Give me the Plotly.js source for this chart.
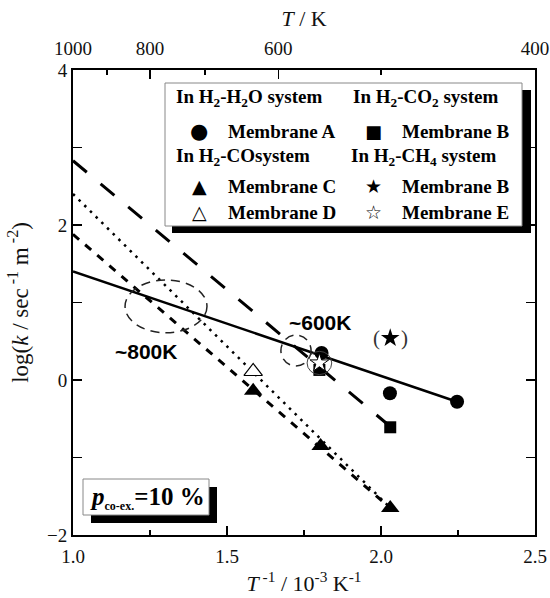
<!DOCTYPE html>
<html>
<head>
<meta charset="utf-8">
<script src="https://cdn.plot.ly/plotly-3.0.1.min.js"></script>
<style>html,body{margin:0;padding:0;background:#fff;}#chart{width:550px;height:598px;}</style>
</head>
<body>
<div id="chart"></div>
<script>
// ---- data ----
const xA = [1.807, 2.029, 2.247];      // Membrane A, H2-H2O
const yA = [0.35, -0.17, -0.28];
const xBco2 = [1.80, 2.03];            // Membrane B, H2-CO2
const yBco2 = [0.13, -0.61];
const xC = [1.585, 1.804, 2.03];       // Membrane C, H2-CO
const yC = [-0.14, -0.85, -1.65];
const xD = [1.585];                    // Membrane D, H2-CO
const yD = [0.11];
const xBch4 = [2.03];                  // Membrane B, H2-CH4
const yBch4 = [0.54];
const xE = [1.80];                     // Membrane E, H2-CH4
const yE = [0.22];
// fitted lines (end points)
const fitA_x = [1.0, 2.247], fitA_y = [1.40, -0.28];
const fitB_x = [1.0, 2.03],  fitB_y = [2.83, -0.60];
const fitC_x = [1.0, 2.03],  fitC_y = [1.88, -1.65];
const fitD_x = [1.0, 2.03],  fitD_y = [2.40, -1.65];
// axes
const xTicks = [1.0, 1.5, 2.0, 2.5];
const yTicks = [-2, 0, 2, 4];
const topT = [1000, 800, 600, 400];
const topMinorT = [900, 700, 500];

// ---- layout helpers (pixel -> paper) ----
const L = 73, R = 535, T = 70, B = 535;
const px = p => (p - L) / (R - L);
const py = p => (B - p) / (B - T);
const serif = 'Liberation Serif, Times New Roman, serif';
const sans = 'Liberation Sans, Arial, sans-serif';

const traces = [
  {x: fitA_x, y: fitA_y, mode: 'lines', line: {color: '#000', width: 2.5}, hoverinfo: 'skip'},
  {x: fitB_x, y: fitB_y, mode: 'lines', line: {color: '#000', width: 3, dash: '18px,18px'}, hoverinfo: 'skip'},
  {x: fitC_x, y: fitC_y, mode: 'lines', line: {color: '#000', width: 3, dash: '8px,8px'}, hoverinfo: 'skip'},
  {x: fitD_x, y: fitD_y, mode: 'lines', line: {color: '#000', width: 2.5, dash: '2.5px,5.5px'}, hoverinfo: 'skip'},
  {x: xA, y: yA, mode: 'markers', marker: {symbol: 'circle', size: 14, color: '#000'}},
  {x: xBco2, y: yBco2, mode: 'markers', marker: {symbol: 'square', size: 12, color: '#000'}},
  {x: xC, y: yC, mode: 'markers', marker: {symbol: 'triangle-up', size: 16, color: '#000'}},
  {x: xD, y: yD, mode: 'markers', marker: {symbol: 'triangle-up', size: 16, color: '#fff', line: {color: '#000', width: 1.2}}},
  {x: xBch4, y: yBch4, mode: 'markers', marker: {symbol: 'star', size: 14, color: '#000'}},
  {x: xE, y: yE, mode: 'markers', marker: {symbol: 'star', size: 14, color: '#fff', line: {color: '#000', width: 1}}},
  // carrier for the top axis
  {x: [1.0, 2.5], y: [0, 0], xaxis: 'x2', mode: 'markers', marker: {opacity: 0}, hoverinfo: 'skip'}
];

const tickFont = {family: serif, size: 19, color: '#111'};
const legendFont = {family: serif, size: 19, color: '#000'};

function legendText(x, y, text) {
  return {xref: 'paper', yref: 'paper', x: px(x), y: py(y), xanchor: 'left', yanchor: 'middle',
          text: text, showarrow: false, font: legendFont};
}
function symText(x, y, text, size) {
  return {xref: 'paper', yref: 'paper', x: px(x), y: py(y), xanchor: 'center', yanchor: 'middle',
          text: text, showarrow: false, font: {family: 'DejaVu Sans, sans-serif', size: size || 19, color: '#000'}};
}

const annotations = [
  legendText(174, 98, '<b>In H<sub>2</sub>-H<sub>2</sub>O system</b>'),
  legendText(351, 98, '<b>In H<sub>2</sub>-CO<sub>2</sub> system</b>'),
  symText(199, 131, '●', 21), legendText(226, 131, '<b>Membrane A</b>'),
  symText(373, 131, '■', 18), legendText(400, 131, '<b>Membrane B</b>'),
  legendText(174, 157, '<b>In H<sub>2</sub>-COsystem</b>'),
  legendText(349, 157, '<b>In H<sub>2</sub>-CH<sub>4</sub> system</b>'),
  symText(199, 186, '▲', 19), legendText(226, 186, '<b>Membrane C</b>'),
  symText(373, 186, '★', 19), legendText(400, 186, '<b>Membrane B</b>'),
  symText(199, 212, '△', 19), legendText(226, 212, '<b>Membrane D</b>'),
  symText(373, 212, '☆', 19), legendText(400, 212, '<b>Membrane E</b>'),
  {xref: 'paper', yref: 'paper', x: px(146), y: py(351), xanchor: 'center', yanchor: 'middle',
   text: '<b>~800K</b>', showarrow: false, font: {family: sans, size: 21, color: '#000'}},
  {xref: 'paper', yref: 'paper', x: px(320), y: py(322), xanchor: 'center', yanchor: 'middle',
   text: '<b>~600K</b>', showarrow: false, font: {family: sans, size: 21, color: '#000'}},
  {x: xBch4[0], y: yBch4[0], xref: 'x', yref: 'y', xanchor: 'center', yanchor: 'middle',
   text: '(    )', showarrow: false, font: {family: serif, size: 21, color: '#333'}},
  {xref: 'paper', yref: 'paper', x: px(147), y: py(498), xanchor: 'center', yanchor: 'middle', showarrow: false,
   text: "<b><i>p</i><sub><span style='font-size:12px'>co-ex.</span></sub>=10 %</b>",
   font: {family: serif, size: 25, color: '#000'}}
];

const shapes = [
  // legend shadow + box
  {type: 'rect', xref: 'paper', yref: 'paper', x0: px(172), x1: px(531), y0: py(90), y1: py(233),
   fillcolor: '#000', line: {width: 0}, layer: 'above'},
  {type: 'rect', xref: 'paper', yref: 'paper', x0: px(165), x1: px(522), y0: py(83), y1: py(226),
   fillcolor: '#fff', line: {color: '#888', width: 1}, layer: 'above'},
  // p box shadow + box
  {type: 'rect', xref: 'paper', yref: 'paper', x0: px(91), x1: px(217), y0: py(487), y1: py(523),
   fillcolor: '#000', line: {width: 0}, layer: 'above'},
  {type: 'rect', xref: 'paper', yref: 'paper', x0: px(83), x1: px(209), y0: py(479), y1: py(515),
   fillcolor: '#fff', line: {color: '#888', width: 1}, layer: 'above'},
  // ellipses
  {type: 'circle', xref: 'x', yref: 'y', x0: 1.169, x1: 1.435, y0: 0.61, y1: 1.29,
   line: {color: '#222', width: 1.5, dash: '9px,6px'}},
  {type: 'circle', xref: 'x', yref: 'y', x0: 1.675, x1: 1.773, y0: 0.18, y1: 0.58,
   line: {color: '#222', width: 1.5, dash: '9px,6px'}},
  // circle around membrane E point
  {type: 'circle', xref: 'x', yref: 'y', x0: xE[0] - 0.04, x1: xE[0] + 0.04, y0: yE[0] - 0.15, y1: yE[0] + 0.15,
   line: {color: '#444', width: 1}}
];

const layout = {
  width: 550, height: 598,
  margin: {l: L, r: 550 - R, t: T, b: 598 - B},
  paper_bgcolor: '#fff', plot_bgcolor: '#fff',
  showlegend: false,
  xaxis: {
    range: [1.0, 2.5], tickvals: xTicks, ticktext: xTicks.map(v => v.toFixed(1)),
    ticks: 'inside', ticklen: 9, tickwidth: 1.5, tickcolor: '#000',
    minor: {tickvals: [1.25, 1.75, 2.25], ticks: 'inside', ticklen: 5, tickwidth: 1.5, tickcolor: '#000'},
    showline: true, linecolor: '#000', linewidth: 2, mirror: false,
    showgrid: false, zeroline: false, tickfont: tickFont, ticklabelstandoff: 3,
    title: {text: '<i>T</i><sup> -1</sup> / 10<sup>-3</sup> K<sup>-1</sup>', font: {family: serif, size: 22, color: '#111'}, standoff: 10}
  },
  xaxis2: {
    overlaying: 'x', side: 'top', range: [1.0, 2.5],
    tickvals: topT.map(t => 1000 / t), ticktext: topT.map(String),
    ticks: 'inside', ticklen: 9, tickwidth: 1.5, tickcolor: '#000',
    minor: {tickvals: topMinorT.map(t => 1000 / t), ticks: 'inside', ticklen: 5, tickwidth: 1.5, tickcolor: '#000'},
    showline: true, linecolor: '#000', linewidth: 2,
    showgrid: false, zeroline: false, tickfont: tickFont, ticklabelstandoff: 5,
    title: {text: '<i>T</i> / K', font: {family: serif, size: 22, color: '#111'}, standoff: 6}
  },
  yaxis: {
    range: [-2, 4], tickvals: yTicks,
    ticks: 'inside', ticklen: 9, tickwidth: 1.5, tickcolor: '#000',
    minor: {dtick: 1, tick0: 0, ticks: 'inside', ticklen: 5, tickwidth: 1.5, tickcolor: '#000'},
    showline: true, linecolor: '#000', linewidth: 2, mirror: 'allticks',
    showgrid: false, zeroline: false, tickfont: tickFont,
    title: {text: 'log(<i>k</i> / sec<sup> -1</sup> m<sup> -2</sup>)', font: {family: serif, size: 23, color: '#111'}, standoff: 12}
  },
  shapes: shapes,
  annotations: annotations
};

Plotly.newPlot('chart', traces, layout, {staticPlot: true, displayModeBar: false});
</script>
</body>
</html>
